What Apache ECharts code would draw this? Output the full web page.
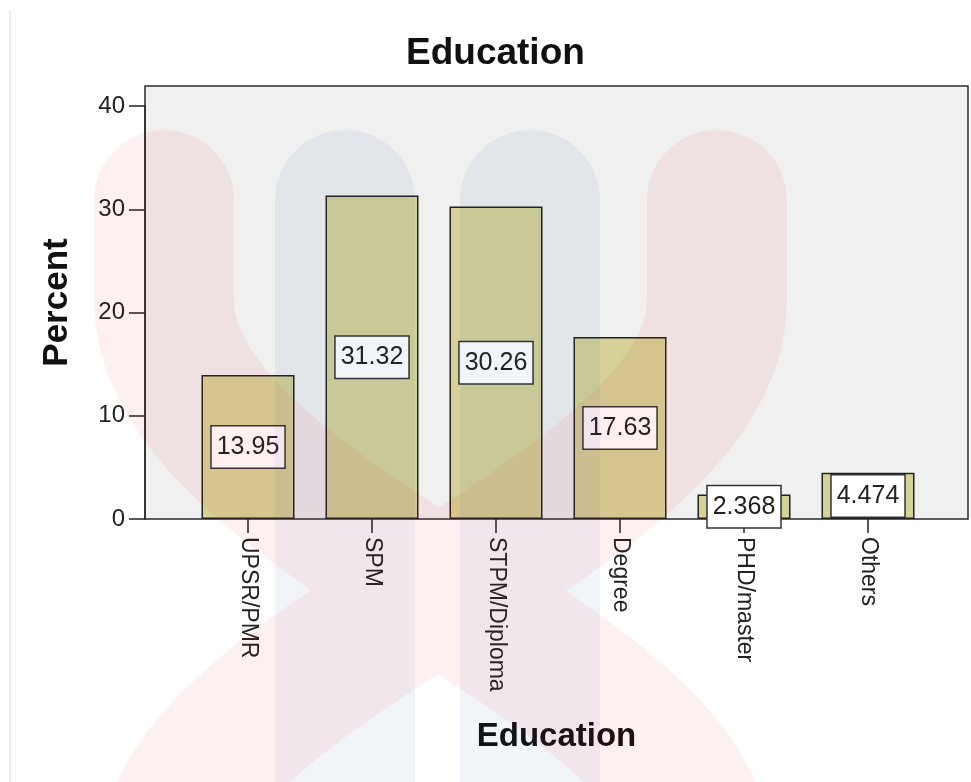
<!DOCTYPE html>
<html><head><meta charset="utf-8">
<script src="https://cdn.jsdelivr.net/npm/echarts@6/dist/echarts.min.js"></script>
<style>html,body{margin:0;padding:0;background:#fff}#c{width:971px;height:782px}</style>
</head><body><div id="c"></div><script>
// ---- data ----
const categories = ['UPSR/PMR', 'SPM', 'STPM/Diploma', 'Degree', 'PHD/master', 'Others'];
const percents = [13.95, 31.32, 30.26, 17.63, 2.368, 4.474];
const valueLabels = ['13.95', '31.32', '30.26', '17.63', '2.368', '4.474'];
const yTicks = [0, 10, 20, 30, 40];
const chartTitle = 'Education';
const xTitle = 'Education';
const yTitle = 'Percent';

const FONT = '"Liberation Sans", Arial, sans-serif';
const ink = '#222';
const pink = 'rgba(230,0,0,0.06)';
const blue = 'rgba(0,80,160,0.055)';

// background watermark stroke (decorative, not data)
function sCurve(x0, x1) {
  const pts = [[x0, 200]];
  for (let i = 0; i <= 40; i++) {
    const t = i / 40, u = 1 - t;
    const x = u*u*u*x0 + 3*u*u*t*x0 + 3*u*t*t*x1 + t*t*t*x1;
    const y = u*u*u*300 + 3*u*u*t*520 + 3*u*t*t*660 + t*t*t*860;
    pts.push([x, y]);
  }
  return pts;
}
const bandA = sCurve(164, 703);
const bandB = sCurve(717, 170).reverse();
const pinkPath = bandA.concat([[703, 1000], [170, 1000]], bandB);

const chart = echarts.init(document.getElementById('c'), null, {renderer: 'canvas'});
chart.setOption({
  animation: false,
  backgroundColor: '#fff',
  textStyle: {fontFamily: FONT},
  title: {
    text: chartTitle, left: 406, top: 35, padding: 0,
    textStyle: {fontSize: 37, fontWeight: 'bold', color: '#111', fontFamily: FONT}
  },
  grid: [
    {left: 145, right: 3, top: 86, bottom: 263, show: true, backgroundColor: '#f0f0f0',
     borderColor: '#2a2a2a', borderWidth: 1.5},
    {left: 186, right: 41, top: 106, bottom: 263}
  ],
  xAxis: [
    {gridIndex: 0, type: 'value', min: 0, max: 1,
     axisLine: {show: false}, axisTick: {show: false}, axisLabel: {show: false}, splitLine: {show: false},
     name: xTitle, nameLocation: 'middle', nameGap: 201,
     nameTextStyle: {fontSize: 33, fontWeight: 'bold', color: '#111', fontFamily: FONT}},
    {gridIndex: 1, type: 'category', data: categories,
     axisLine: {show: false},
     axisTick: {show: true, alignWithLabel: true, length: 14, lineStyle: {color: ink, width: 1.5}},
     axisLabel: {rotate: -90, margin: 18, fontSize: 23, color: ink, fontFamily: FONT},
     splitLine: {show: false}}
  ],
  yAxis: [
    {gridIndex: 0, type: 'value', min: 0, max: 1,
     axisLine: {show: false}, axisTick: {show: false}, axisLabel: {show: false}, splitLine: {show: false},
     name: yTitle, nameLocation: 'middle', nameGap: 70, nameRotate: 90,
     nameTextStyle: {fontSize: 35, fontWeight: 'bold', color: '#111', fontFamily: FONT}},
    {gridIndex: 1, type: 'value', min: yTicks[0], max: yTicks[yTicks.length - 1],
     interval: yTicks[1] - yTicks[0], offset: 41,
     axisLine: {show: true, lineStyle: {color: '#2a2a2a', width: 1.5}},
     axisTick: {show: true, length: 16, lineStyle: {color: ink, width: 1.5}},
     axisLabel: {margin: 20, fontSize: 24, color: ink, fontFamily: FONT},
     splitLine: {show: false}}
  ],
  series: [{
    type: 'bar', xAxisIndex: 1, yAxisIndex: 1, data: percents, barWidth: '75%',
    itemStyle: {color: '#d5d197', borderColor: ink, borderWidth: 1.5},
    emphasis: {disabled: true},
    label: {
      show: true, position: 'inside',
      formatter: p => valueLabels[p.dataIndex],
      fontSize: 25, lineHeight: 29, color: ink, fontFamily: FONT,
      backgroundColor: '#fff', borderColor: '#333', borderWidth: 1.5, padding: [6, 5]
    }
  }],
  graphic: [
    {type: 'line', silent: true, z: 100, shape: {x1: 10, y1: 10, x2: 10, y2: 782},
     style: {stroke: '#ededed', lineWidth: 2}},
    {type: 'line', silent: true, z: 100, shape: {x1: 345, y1: 200, x2: 345, y2: 830},
     style: {stroke: blue, lineWidth: 140, lineCap: 'round'}},
    {type: 'line', silent: true, z: 100, shape: {x1: 530, y1: 200, x2: 530, y2: 830},
     style: {stroke: blue, lineWidth: 140, lineCap: 'round'}},
    {type: 'polyline', silent: true, z: 101, shape: {points: pinkPath},
     style: {fill: null, stroke: pink, lineWidth: 140, lineCap: 'round', lineJoin: 'round'}}
  ]
});
</script></body></html>
